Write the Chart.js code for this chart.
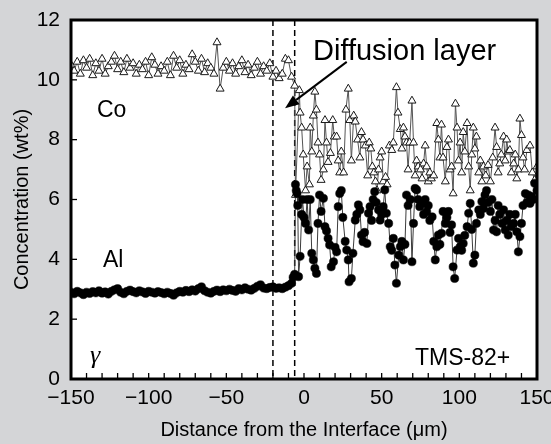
<!DOCTYPE html>
<html>
<head>
<meta charset="utf-8">
<script src="https://cdn.jsdelivr.net/npm/chart.js@4.4.1/dist/chart.umd.min.js"></script>
<style>
  html, body { margin: 0; padding: 0; background: #d4d5d7; }
</style>
</head>
<body>
<canvas id="profile" width="551" height="444"></canvas>
<script>
// x positions (µm) of the flat gamma side, shared by both elements
const flatX = [
  -150,-148,-146,-144,-142,-140,-138,-136,-134,-132,-130,-128,
  -126,-124,-122,-120,-118,-116,-114,-112,-110,-108,-106,-104,
  -102,-100,-98,-96,-94,-92,-90,-88,-86,-84,-82,-80,
  -78,-76,-74,-72,-70,-68,-66,-64,-62,-60,-58,-56,
  -54,-52,-50,-48,-46,-44,-42,-40,-38,-36,-34,-32,
  -30,-28,-26,-24,-22,-20,-18,-16,-14,-12,-10,-8
];
const coFlat = [
  10.5,10.3,10.6,10.2,10.65,10.4,10.7,10.15,10.55,10.3,10.7,10.2,
  10.45,10.6,10.8,10.35,10.6,10.25,10.7,10.4,10.55,10.2,10.5,10.35,
  10.6,10.15,10.75,10.5,10.2,10.45,10.3,10.6,10.15,10.8,10.4,10.65,
  10.2,10.5,10.35,10.85,10.6,10.3,10.7,10.25,10.55,10.4,10.2,11.25,
  9.7,10.4,10.6,10.3,10.55,10.2,10.45,10.65,10.25,10.5,10.15,10.4,
  10.6,10.2,10.45,10.3,10.55,10.1,10.3,10.05,10.2,10.7,10.65,10.1
];
const alFlat = [
  2.9,2.85,2.93,2.88,2.82,2.9,2.86,2.92,2.88,2.95,2.87,2.91,
  2.84,2.93,2.98,3.02,2.9,2.85,2.93,2.97,2.92,2.88,2.95,2.91,
  2.86,2.93,2.9,2.87,2.92,2.89,2.85,2.9,2.86,2.8,2.88,2.93,
  2.9,2.96,2.92,2.98,2.94,3.02,3.08,2.95,2.9,2.87,2.93,2.97,
  2.92,2.98,2.95,3.0,2.96,2.93,3.02,2.98,3.05,3.0,2.97,3.03,
  3.1,3.15,3.04,3.02,3.06,3.08,3.03,3.05,3.02,3.07,3.12,3.2
];

// diffusion layer side
const coDiffX = [
  -6,-5.5,-3,-2.5,-1.5,-0.5,1,2,3.5,4,5,6,
  7,8,9,10,11,12.5,13.5,14.5,15.5,17,18.5,19.5,
  21,22,23,24,25.5,27,28.5,29.5,30.5,32,33,34.5,
  36,37,38,39.5,41,42,43,44,45,46,47,48,
  49,50,51,52.5,53.5,55,56.5,57.5,59.5,60.5,62,63,
  64,65,66,67,68,69.5,70.5,71.5,72.5,73.5,75,76,
  77,78,79,80,81,82,83.5,85.5,86.5,87.5,88.5,89.5,
  91,92,93,94,95,96,97.5,98.5,99.5,100.5,101.5,102.5,
  103.5,105,106,107,108,109,110,111,112.5,113.5,114.5,115.5,
  117,118.5,120,121.5,123,124,125,126,127,128.5,129.5,130.5,
  131.5,132.5,133.5,135,136,137,138,139,140,141,142,143.5,
  145.5,147,148.5,150
];
const coDiff = [
  9.8,6.15,9.65,8.9,8.4,7.5,6.3,7.1,6.5,8.4,7.6,8.8,
  9.6,9.0,7.9,7.5,6.65,7.0,8.65,7.9,7.25,7.55,8.65,8.1,
  8.1,7.3,6.9,7.6,6.9,9.0,9.7,8.65,7.3,8.8,8.6,8.0,
  7.4,8.25,8.0,7.8,6.8,7.9,7.7,7.1,6.9,6.6,6.3,7.0,
  7.4,7.6,6.6,6.75,6.5,7.8,7.65,7.9,9.75,8.9,8.35,7.7,
  8.4,8.1,7.9,7.0,7.9,9.3,7.9,6.8,7.3,7.1,7.0,6.7,
  7.2,7.8,7.1,6.6,6.9,6.7,6.8,8.55,8.0,7.4,8.5,7.4,
  6.6,7.75,8.0,7.0,7.1,6.2,9.2,8.4,7.3,7.9,6.9,8.25,
  7.6,8.55,7.1,6.3,7.5,8.4,7.7,8.1,6.9,7.3,6.6,7.1,
  6.8,7.15,6.6,7.4,8.4,7.75,6.9,7.2,7.5,8.1,7.3,8.0,
  7.6,7.65,6.9,7.2,7.5,6.7,7.0,8.7,8.15,7.4,7.0,7.65,
  7.8,6.9,6.65,7.1
];
const alDiffX = [
  -7,-6,-5.5,-5,-4.5,-4,-3.5,-2.5,-1.5,-1,0,1,
  2,3,4,5,6,7,8,9,10,11,12.5,13.5,
  14.5,15.5,16.5,17.5,19,20,21,22,23,24,25,26.5,
  27.5,28.5,29,30.5,31.5,33,34,35,36,37,38,39,
  40.5,41.5,42.5,43.5,44.5,45.5,46.5,48,49,50,51,52,
  53,54.5,55.5,56.5,57.5,58.5,59.5,61,62,63,64,65,
  66,67,68.5,69.5,70.5,71.5,72.5,73.5,74.5,76,77,78,
  79,80,81,82.5,83.5,84.5,85.5,86.5,87.5,88.5,89.5,91,
  92,93,94,95,96,97,98.5,99.5,100.5,101.5,102.5,103.5,
  105,106,107,108,109,110,111,112.5,113.5,114.5,115.5,116.5,
  117.5,118.5,120,121,122,123,124,125,126,127.5,128.5,129.5,
  130.5,131.5,132.5,133.5,135,136,137,138,139,140,141,142.5,
  143.5,144.5,145.5,146.5,147.5,148.5,150
];
const alDiff = [
  3.4,3.5,6.5,6.3,6.2,5.8,3.42,4.1,5.5,6.0,5.4,5.2,
  6.0,4.98,6.0,4.2,3.98,3.7,3.53,5.2,6.15,5.6,6.04,5.09,
  4.95,4.7,4.48,3.75,3.92,4.4,4.25,5.76,6.2,6.3,5.4,4.6,
  4.31,3.98,3.25,3.36,4.2,5.31,5.5,5.82,5.65,4.81,4.59,4.9,
  4.53,5.54,5.76,5.3,6.0,6.26,5.9,5.65,5.31,5.5,5.76,6.32,
  5.54,5.2,4.42,4.3,4.7,3.81,3.2,4.14,4.42,4.6,3.98,4.5,
  6.15,5.8,6.0,3.92,5.2,6.37,6.32,6.0,5.76,5.87,5.5,6.0,
  5.59,5.8,5.3,5.42,4.6,3.98,4.42,4.81,4.5,4.87,5.6,5.2,
  5.4,5.6,4.9,5.15,3.75,3.36,4.31,4.7,4.42,4.3,4.53,4.8,
  5.09,5.54,5.87,5.0,3.87,4.14,5.2,5.65,5.5,5.93,5.7,6.15,
  6.3,5.9,5.6,6.0,4.98,5.3,4.92,5.8,5.5,5.2,5.65,4.98,
  5.3,4.81,5.5,5.09,5.2,5.5,4.92,4.25,4.76,5.2,5.8,6.2,
  5.9,6.15,5.87,6.1,6.0,6.54,6.3
];

// boundaries of the diffusion layer (dashed lines)
const layerEdges = [-20, -6];

// text on the plot, anchored in data units
const notes = [
  { text: 'Diffusion layer', x: 5.8, y: 10.66, font: '29px "Liberation Sans", Arial, sans-serif' },
  { text: 'Co', x: -133.3, y: 8.76, font: '23px "Liberation Sans", Arial, sans-serif' },
  { text: 'Al', x: -129.4, y: 3.74, font: '23px "Liberation Sans", Arial, sans-serif' },
  { text: 'γ', x: -137.8, y: 0.55, font: 'italic 26px "Liberation Serif", serif' },
  { text: 'TMS-82+', x: 71.5, y: 0.47, font: '23px "Liberation Sans", Arial, sans-serif' }
];
const arrowFrom = [27.5, 10.6];
const arrowTo = [-12.2, 9.05];

function pairs(xs, ys) {
  const n = Math.min(xs.length, ys.length);
  const out = [];
  for (let i = 0; i < n; i++) out.push({ x: xs[i], y: ys[i] });
  return out;
}

const axisFamily = '"Liberation Sans", Arial, sans-serif';

const background = {
  id: 'background',
  beforeDraw(chart) {
    const { ctx, chartArea: a } = chart;
    ctx.save();
    ctx.fillStyle = '#d4d5d7';
    ctx.fillRect(0, 0, chart.width, chart.height);
    ctx.fillStyle = '#ffffff';
    ctx.fillRect(a.left, a.top, a.width, a.height);
    ctx.restore();
  },
  beforeDatasetsDraw(chart) {
    const { ctx, chartArea: a, scales: { x } } = chart;
    ctx.save();
    ctx.strokeStyle = '#000';
    ctx.lineWidth = 1.5;
    ctx.setLineDash([6, 4]);
    layerEdges.forEach(v => {
      const px = x.getPixelForValue(v);
      ctx.beginPath();
      ctx.moveTo(px, a.top);
      ctx.lineTo(px, a.bottom);
      ctx.stroke();
    });
    ctx.restore();
  }
};

const frameAndNotes = {
  id: 'frameAndNotes',
  afterDatasetsDraw(chart) {
    const { ctx, chartArea: a, scales: { x, y } } = chart;
    ctx.save();
    ctx.strokeStyle = '#000';
    ctx.lineWidth = 1.3;
    // inward ticks
    for (let v = -150; v <= 150; v += 10) {
      const px = x.getPixelForValue(v);
      ctx.beginPath();
      ctx.moveTo(px, a.bottom);
      ctx.lineTo(px, a.bottom - 6);
      ctx.stroke();
    }
    for (let v = 0; v <= 12; v += 2) {
      const py = y.getPixelForValue(v);
      ctx.beginPath();
      ctx.moveTo(a.left, py);
      ctx.lineTo(a.left + 6, py);
      ctx.stroke();
    }
    ctx.lineWidth = 3;
    ctx.strokeRect(a.left, a.top, a.width, a.height);

    // labels
    ctx.fillStyle = '#000';
    ctx.textAlign = 'left';
    ctx.textBaseline = 'alphabetic';
    notes.forEach(n => {
      ctx.font = n.font;
      ctx.fillText(n.text, x.getPixelForValue(n.x), y.getPixelForValue(n.y));
    });

    // arrow to the layer
    const x0 = x.getPixelForValue(arrowFrom[0]), y0 = y.getPixelForValue(arrowFrom[1]);
    const x1 = x.getPixelForValue(arrowTo[0]), y1 = y.getPixelForValue(arrowTo[1]);
    const ang = Math.atan2(y1 - y0, x1 - x0);
    const head = 14, half = 5.5;
    const bx = x1 - head * Math.cos(ang), by = y1 - head * Math.sin(ang);
    ctx.lineWidth = 2;
    ctx.beginPath();
    ctx.moveTo(x0, y0);
    ctx.lineTo(bx, by);
    ctx.stroke();
    ctx.beginPath();
    ctx.moveTo(x1, y1);
    ctx.lineTo(bx + half * Math.sin(ang), by - half * Math.cos(ang));
    ctx.lineTo(bx - half * Math.sin(ang), by + half * Math.cos(ang));
    ctx.closePath();
    ctx.fill();
    ctx.restore();
  }
};

new Chart(document.getElementById('profile'), {
  type: 'scatter',
  data: {
    datasets: [
      {
        label: 'Al',
        data: pairs(flatX, alFlat).concat(pairs(alDiffX, alDiff)),
        showLine: true,
        borderColor: '#3c3c3c',
        borderWidth: 1,
        pointStyle: 'circle',
        pointRadius: 4.1,
        pointBackgroundColor: '#000000',
        pointBorderColor: '#000000',
        pointBorderWidth: 0.5
      },
      {
        label: 'Co',
        data: pairs(flatX, coFlat).concat(pairs(coDiffX, coDiff)),
        showLine: true,
        borderColor: '#555555',
        borderWidth: 1,
        pointStyle: 'triangle',
        pointRadius: 4.6,
        pointBackgroundColor: '#ffffff',
        pointBorderColor: '#1a1a1a',
        pointBorderWidth: 1
      }
    ]
  },
  options: {
    responsive: false,
    animation: false,
    devicePixelRatio: 1,
    layout: { padding: { left: 0, right: 14, top: 20, bottom: 0 } },
    plugins: { legend: { display: false }, tooltip: { enabled: false } },
    scales: {
      x: {
        type: 'linear',
        min: -150,
        max: 150,
        grid: { display: false, drawTicks: false },
        border: { display: false },
        ticks: {
          stepSize: 50,
          padding: 7,
          color: '#000',
          font: { family: axisFamily, size: 21 },
          callback: v => (v < 0 ? '\u2212' + Math.abs(v) : String(v))
        },
        title: {
          display: true,
          text: 'Distance from the Interface (μm)',
          color: '#000',
          font: { family: axisFamily, size: 20 },
          padding: { top: 0, bottom: 2 }
        },
        afterFit(s) { s.height = 65; s.paddingLeft = 0; s.paddingRight = 0; }
      },
      y: {
        min: 0,
        max: 12,
        grid: { display: false, drawTicks: false },
        border: { display: false },
        ticks: {
          stepSize: 2,
          padding: 11,
          color: '#000',
          font: { family: axisFamily, size: 21 }
        },
        title: {
          display: true,
          text: 'Concentration (wt%)',
          color: '#000',
          font: { family: axisFamily, size: 20 },
          padding: { top: 10, bottom: 0 }
        },
        afterFit(s) { s.width = 71; s.paddingTop = 0; s.paddingBottom = 0; }
      }
    }
  },
  plugins: [background, frameAndNotes]
});
</script>
</body>
</html>
